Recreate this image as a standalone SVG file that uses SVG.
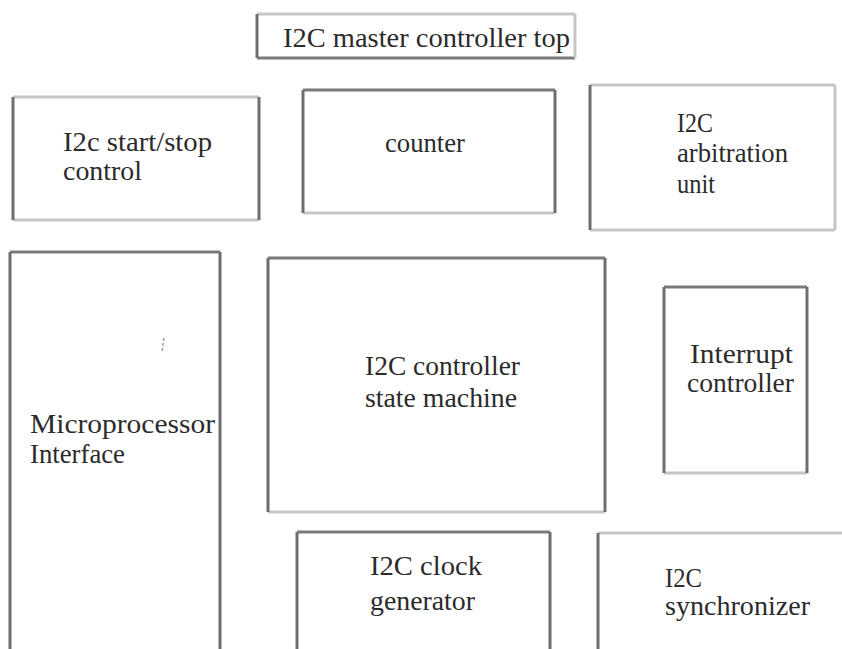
<svg xmlns="http://www.w3.org/2000/svg" width="842" height="649" viewBox="0 0 842 649">
  <style>
    .h { stroke: #c6c6c6; stroke-width: 3; }
    .hd { stroke: #7a7a7a; stroke-width: 3; }
    .v { stroke: #6e6e6e; stroke-width: 3; }
    .lbl { font-family: 'Liberation Serif', 'DejaVu Serif', 'Noto Serif', 'Times New Roman', Times, serif; font-size: 27px; fill: #2b2b2b; }
  </style>
  <rect width="842" height="649" fill="#ffffff"/>

  <g id="title">
    <line class="h" x1="257" y1="14" x2="575" y2="14"/>
    <line class="hd" x1="257" y1="58" x2="575" y2="58"/>
    <line class="v" x1="257" y1="14" x2="257" y2="58"/>
    <line class="h" x1="575" y1="14" x2="575" y2="58"/>
    <text class="lbl" x="283" y="47" textLength="287" lengthAdjust="spacingAndGlyphs">I2C master controller top</text>
  </g>

  <g id="start-stop">
    <line class="h" x1="13" y1="97" x2="259" y2="97"/>
    <line class="h" x1="13" y1="220" x2="259" y2="220"/>
    <line class="v" x1="13" y1="97" x2="13" y2="220"/>
    <line class="v" x1="259" y1="97" x2="259" y2="220"/>
    <text class="lbl" x="63" y="151" textLength="149" lengthAdjust="spacingAndGlyphs">I2c start/stop</text>
    <text class="lbl" x="63" y="180" textLength="79" lengthAdjust="spacingAndGlyphs">control</text>
  </g>

  <g id="counter">
    <line class="hd" x1="303" y1="90" x2="555" y2="90"/>
    <line class="h" x1="303" y1="213" x2="555" y2="213"/>
    <line class="v" x1="303" y1="90" x2="303" y2="213"/>
    <line class="v" x1="555" y1="90" x2="555" y2="213"/>
    <text class="lbl" x="385" y="152" textLength="80" lengthAdjust="spacingAndGlyphs">counter</text>
  </g>

  <g id="arbitration">
    <line class="h" x1="590" y1="85" x2="835" y2="85"/>
    <line class="h" x1="590" y1="230" x2="835" y2="230"/>
    <line class="v" x1="590" y1="85" x2="590" y2="230"/>
    <line class="h" x1="835" y1="85" x2="835" y2="230"/>
    <text class="lbl" x="677" y="132" textLength="36" lengthAdjust="spacingAndGlyphs">I2C</text>
    <text class="lbl" x="677" y="162" textLength="111" lengthAdjust="spacingAndGlyphs">arbitration</text>
    <text class="lbl" x="677" y="193" textLength="38" lengthAdjust="spacingAndGlyphs">unit</text>
  </g>

  <g id="microprocessor">
    <line class="hd" x1="10" y1="252" x2="220" y2="252"/>
    <line class="v" x1="10" y1="252" x2="10" y2="649"/>
    <line class="v" x1="220" y1="252" x2="220" y2="649"/>
    <line x1="164" y1="338" x2="162" y2="352" stroke="#9a9a9a" stroke-width="1.5" stroke-dasharray="3 2"/>
    <text class="lbl" x="30" y="433" textLength="185" lengthAdjust="spacingAndGlyphs">Microprocessor</text>
    <text class="lbl" x="30" y="463" textLength="95" lengthAdjust="spacingAndGlyphs">Interface</text>
  </g>

  <g id="state-machine">
    <line class="hd" x1="268" y1="258" x2="605" y2="258"/>
    <line class="h" x1="268" y1="512" x2="605" y2="512"/>
    <line class="v" x1="268" y1="258" x2="268" y2="512"/>
    <line class="v" x1="605" y1="258" x2="605" y2="512"/>
    <text class="lbl" x="365" y="375" textLength="155" lengthAdjust="spacingAndGlyphs">I2C controller</text>
    <text class="lbl" x="365" y="407" textLength="152" lengthAdjust="spacingAndGlyphs">state machine</text>
  </g>

  <g id="interrupt">
    <line class="hd" x1="664" y1="287" x2="807" y2="287"/>
    <line class="h" x1="664" y1="473" x2="807" y2="473"/>
    <line class="v" x1="664" y1="287" x2="664" y2="473"/>
    <line class="v" x1="807" y1="287" x2="807" y2="473"/>
    <text class="lbl" x="690" y="363" textLength="103" lengthAdjust="spacingAndGlyphs">Interrupt</text>
    <text class="lbl" x="687" y="392" textLength="107" lengthAdjust="spacingAndGlyphs">controller</text>
  </g>

  <g id="clock-generator">
    <line class="hd" x1="297" y1="532" x2="550" y2="532"/>
    <line class="v" x1="297" y1="532" x2="297" y2="649"/>
    <line class="v" x1="550" y1="532" x2="550" y2="649"/>
    <text class="lbl" x="370" y="575" textLength="112" lengthAdjust="spacingAndGlyphs">I2C clock</text>
    <text class="lbl" x="370" y="610" textLength="105" lengthAdjust="spacingAndGlyphs">generator</text>
  </g>

  <g id="synchronizer">
    <line class="h" x1="598" y1="533" x2="842" y2="533"/>
    <line class="v" x1="598" y1="533" x2="598" y2="649"/>
    <text class="lbl" x="665" y="587" textLength="37" lengthAdjust="spacingAndGlyphs">I2C</text>
    <text class="lbl" x="665" y="615" textLength="145" lengthAdjust="spacingAndGlyphs">synchronizer</text>
  </g>

  <g id="connectors"></g>
</svg>
